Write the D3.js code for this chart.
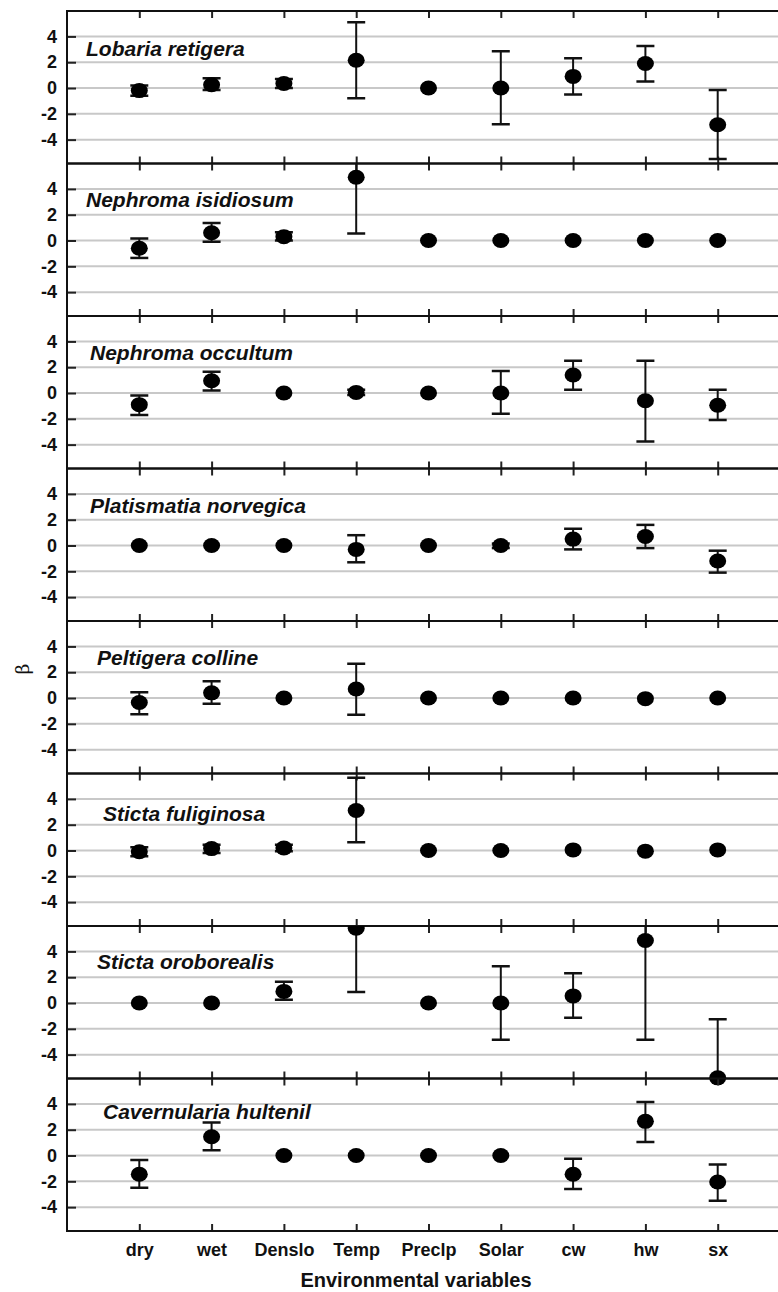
<!DOCTYPE html>
<html>
<head>
<meta charset="utf-8">
<script src="https://cdn.jsdelivr.net/npm/d3@7"></script>
<style>
  body { margin: 0; background: #fff; }
  svg { display: block; font-family: 'Liberation Sans', Arial, sans-serif; }
</style>
</head>
<body>
<div id="chart"></div>
<script>
// data
var variables = ['dry', 'wet', 'Denslo', 'Temp', 'Preclp', 'Solar', 'cw', 'hw', 'sx']
var species = [
  'Lobaria retigera',
  'Nephroma isidiosum',
  'Nephroma occultum',
  'Platismatia norvegica',
  'Peltigera colline',
  'Sticta fuliginosa',
  'Sticta oroborealis',
  'Cavernularia hultenil'
]
var yTicks = [4, 2, 0, -2, -4]

// estimate of beta, one row per species
var betaMean = [
  [-0.2, 0.25, 0.35, 2.15, 0, 0, 0.9, 1.9, -2.85],
  [-0.6, 0.6, 0.3, 4.9, 0, 0, 0, 0, 0],
  [-0.9, 0.95, 0, 0.05, 0, 0, 1.4, -0.6, -0.95],
  [0, 0, 0, -0.3, 0, 0, 0.5, 0.7, -1.2],
  [-0.35, 0.4, 0, 0.7, 0, 0, 0, -0.05, 0],
  [-0.1, 0.15, 0.2, 3.1, 0, 0, 0.05, -0.05, 0.05],
  [0, 0, 0.9, 5.8, 0, 0, 0.55, 4.85, -5.8],
  [-1.45, 1.45, 0, 0, 0, 0, -1.45, 2.65, -2.05]
]
// lower end of the error bar
var betaLow = [
  [-0.6, -0.15, 0, -0.8, 0, -2.8, -0.5, 0.5, -5.5],
  [-1.35, -0.1, 0, 0.55, 0, 0, 0, 0, 0],
  [-1.7, 0.2, 0, -0.15, 0, -1.6, 0.25, -3.75, -2.1],
  [0, 0, 0, -1.3, 0, -0.2, -0.3, -0.2, -2.1],
  [-1.25, -0.45, 0, -1.3, 0, 0, 0, -0.05, 0],
  [-0.45, -0.2, -0.05, 0.65, 0, 0, 0.05, -0.05, 0.05],
  [0, 0, 0.25, 0.85, 0, -2.85, -1.15, -2.85, -10.4],
  [-2.5, 0.4, 0, 0, 0, 0, -2.6, 1.05, -3.5]
]
// upper end of the error bar
var betaHigh = [
  [0.2, 0.75, 0.7, 5.1, 0, 2.85, 2.3, 3.25, -0.15],
  [0.15, 1.35, 0.65, 9.3, 0, 0, 0, 0, 0],
  [-0.2, 1.65, 0, 0.25, 0, 1.7, 2.5, 2.5, 0.25],
  [0, 0, 0, 0.8, 0, 0.15, 1.3, 1.6, -0.4],
  [0.45, 1.3, 0, 2.65, 0, 0, 0, -0.05, 0],
  [0.25, 0.45, 0.45, 5.65, 0, 0, 0.05, -0.05, 0.05],
  [0, 0, 1.65, 10.75, 0, 2.85, 2.3, 12.5, -1.25],
  [-0.35, 2.55, 0, 0, 0, 0, -0.25, 4.15, -0.7]
]

// layout
var width = 778
var height = 1292
var left = 67
var right = 790 // frame runs past the picture edge
var top0 = 11
var panelH = 152.5
var titleX = [86, 86, 90, 90, 97, 103, 97, 103]
var titleY = [45, 43, 44, 44, 44, 47, 43, 40]

var svg = d3
  .select('#chart')
  .append('svg')
  .attr('width', width)
  .attr('height', height)

var xScale = d3
  .scalePoint()
  .domain(variables)
  .range([left, right])
  .padding(1)

var defs = svg.append('defs')

species.forEach(function(name, i) {
  var top = top0 + i * panelH
  var bottom = top + panelH

  var yScale = d3
    .scaleLinear()
    .domain([-5.85, 5.97])
    .range([bottom, top])

  var panel = svg.append('g').attr('class', 'panel')

  defs
    .append('clipPath')
    .attr('id', 'clip-' + i)
    .append('rect')
    .attr('x', left)
    .attr('y', top)
    .attr('width', right - left)
    .attr('height', panelH)

  defs
    .append('clipPath')
    .attr('id', 'clipdot-' + i)
    .append('rect')
    .attr('x', left)
    .attr('y', top)
    .attr('width', right - left)
    .attr('height', panelH + 8)

  // gray gridlines
  panel
    .selectAll('.grid')
    .data(yTicks)
    .enter()
    .append('line')
    .attr('class', 'grid')
    .attr('x1', left)
    .attr('x2', right)
    .attr('y1', d => yScale(d))
    .attr('y2', d => yScale(d))
    .attr('stroke', '#c8c8c8')
    .attr('stroke-width', 2)

  // y axis with inward ticks
  var yAxis = d3
    .axisLeft(yScale)
    .tickValues(yTicks)
    .tickSize(-9)
    .tickPadding(10)
    .tickFormat(d => (d < 0 ? '-' + Math.abs(d) : d))

  var gy = panel
    .append('g')
    .attr('transform', 'translate(' + left + ',0)')
    .call(yAxis)
  gy.select('.domain').remove()
  gy.selectAll('line').attr('stroke', '#222').attr('stroke-width', 2)
  gy.selectAll('text')
    .attr('font-size', 18)
    .attr('font-weight', 700)
    .attr('fill', '#111')
    .attr('font-family', "'Liberation Sans', Arial, sans-serif")

  // x ticks on top and bottom edges, pointing in
  var gTop = panel
    .append('g')
    .attr('transform', 'translate(0,' + top + ')')
    .call(d3.axisTop(xScale).tickSize(-7).tickFormat(''))
  gTop.select('.domain').remove()
  gTop.selectAll('line').attr('stroke', '#222').attr('stroke-width', 2)

  var gBottom = panel
    .append('g')
    .attr('transform', 'translate(0,' + bottom + ')')
    .call(
      d3
        .axisBottom(xScale)
        .tickSize(-7)
        .tickPadding(12)
        .tickFormat(i === species.length - 1 ? d => d : '')
    )
  gBottom.select('.domain').remove()
  gBottom.selectAll('line').attr('stroke', '#222').attr('stroke-width', 2)
  gBottom.selectAll('text')
    .attr('font-size', 18)
    .attr('font-weight', 700)
    .attr('fill', '#111')
    .attr('font-family', "'Liberation Sans', Arial, sans-serif")

  // panel frame
  panel
    .append('rect')
    .attr('x', left)
    .attr('y', top)
    .attr('width', right - left)
    .attr('height', panelH)
    .attr('fill', 'none')
    .attr('stroke', '#111')
    .attr('stroke-width', 2)

  panel
    .append('text')
    .attr('x', titleX[i])
    .attr('y', top + titleY[i])
    .attr('font-size', 21)
    .attr('font-weight', 700)
    .attr('font-style', 'italic')
    .attr('fill', '#111')
    .text(name)

  var points = variables.map(function(v, j) {
    return { v: v, mean: betaMean[i][j], low: betaLow[i][j], high: betaHigh[i][j] }
  })
  var withBars = points.filter(d => d.high - d.low > 0.01)

  var bars = panel.append('g').attr('clip-path', 'url(#clip-' + i + ')')

  bars
    .selectAll('.stem')
    .data(withBars)
    .enter()
    .append('line')
    .attr('class', 'stem')
    .attr('x1', d => xScale(d.v))
    .attr('x2', d => xScale(d.v))
    .attr('y1', d => yScale(d.low))
    .attr('y2', d => yScale(d.high))
    .attr('stroke', '#111')
    .attr('stroke-width', 2)

  bars
    .selectAll('.cap-lo')
    .data(withBars)
    .enter()
    .append('line')
    .attr('class', 'cap-lo')
    .attr('x1', d => xScale(d.v) - 9)
    .attr('x2', d => xScale(d.v) + 9)
    .attr('y1', d => yScale(d.low))
    .attr('y2', d => yScale(d.low))
    .attr('stroke', '#111')
    .attr('stroke-width', 2.5)

  bars
    .selectAll('.cap-hi')
    .data(withBars)
    .enter()
    .append('line')
    .attr('class', 'cap-hi')
    .attr('x1', d => xScale(d.v) - 9)
    .attr('x2', d => xScale(d.v) + 9)
    .attr('y1', d => yScale(d.high))
    .attr('y2', d => yScale(d.high))
    .attr('stroke', '#111')
    .attr('stroke-width', 2.5)

  panel
    .append('g')
    .attr('clip-path', 'url(#clipdot-' + i + ')')
    .selectAll('.dot')
    .data(points)
    .enter()
    .append('ellipse')
    .attr('class', 'dot')
    .attr('cx', d => xScale(d.v))
    .attr('cy', d => yScale(d.mean))
    .attr('rx', 8.5)
    .attr('ry', 7.5)
    .attr('fill', '#000')
})

// axis titles
svg
  .append('text')
  .attr('x', 416)
  .attr('y', 1287)
  .attr('text-anchor', 'middle')
  .attr('font-size', 20)
  .attr('font-weight', 700)
  .attr('fill', '#111')
  .text('Environmental variables')

svg
  .append('text')
  .attr('transform', 'translate(29,669) rotate(-90)')
  .attr('text-anchor', 'middle')
  .attr('font-size', 19)
  .attr('font-family', "'DejaVu Serif', serif")
  .attr('fill', '#111')
  .text('β')
</script>
</body>
</html>
